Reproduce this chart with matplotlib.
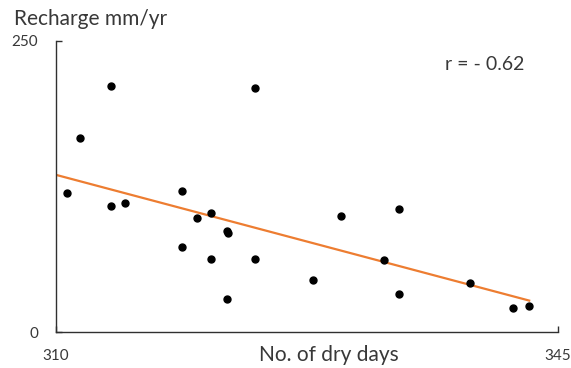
import matplotlib
matplotlib.use('Agg')
import matplotlib.pyplot as plt

plt.rcParams['font.family'] = ['Lato', 'DejaVu Sans']

# data
dry_days = [313.8, 323.9, 311.7, 310.8, 313.8, 314.8, 318.8, 319.8, 320.8, 321.9,
            322.0, 318.8, 320.8, 323.9, 321.9, 329.9, 333.9, 327.9, 332.9, 333.9,
            338.9, 341.9, 343.0]
recharge = [211, 210, 167, 119, 108, 111, 121, 98, 102, 87,
            85, 73, 63, 63, 28, 100, 106, 45, 62, 33,
            42, 21, 22]
trend_x = [310, 343]
trend_y = [135, 27]

text_col = '#383838'

fig = plt.figure(figsize=(5.71, 3.68), dpi=100)
ax = fig.add_axes([0.0981, 0.0978, 0.8789, 0.7908])

ax.plot(trend_x, trend_y, color='#ED7D31', linewidth=1.6, zorder=2)
ax.plot(dry_days, recharge, 'o', color='black', markersize=5, zorder=3)

ax.set_xlim(310, 345)
ax.set_ylim(0, 250)
ax.set_xticks([310, 345])
ax.set_yticks([0, 250])
ax.spines['top'].set_visible(False)
ax.spines['right'].set_visible(False)
for s in ('left', 'bottom'):
    ax.spines[s].set_color('#303030')
    ax.spines[s].set_linewidth(1.0)
ax.tick_params(axis='both', direction='in', length=4, width=1, color='#303030',
               labelsize=11, labelcolor=text_col)
ax.tick_params(axis='y', pad=13)
ax.tick_params(axis='x', pad=12)

ax.set_xlabel('No. of dry days', fontsize=15, color=text_col)
ax.xaxis.set_label_coords(0.544, -0.045)
fig.text(14 / 571, 1 - 19 / 368, 'Recharge mm/yr', fontsize=15, color=text_col,
         ha='left', va='center')
ax.text(0.855, 0.92, 'r = - 0.62', transform=ax.transAxes, fontsize=14,
        color=text_col, ha='center', va='center')

fig.savefig('out.png', dpi=100)
